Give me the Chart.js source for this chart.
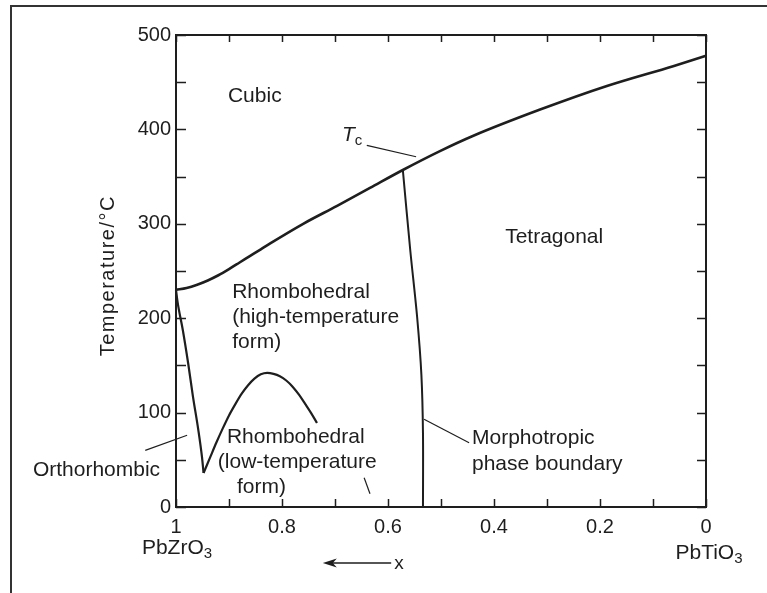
<!DOCTYPE html>
<html>
<head>
<meta charset="utf-8">
<title>PZT phase diagram</title>
<script src="https://cdn.jsdelivr.net/npm/chart.js@4.4.1/dist/chart.umd.min.js"></script>
<style>
  html, body { margin: 0; padding: 0; background: #fff; }
  #wrap { position: relative; width: 767px; height: 593px; overflow: hidden; }
  #frame { position: absolute; left: 10px; top: 5px; right: -4px; bottom: -4px;
           border-left: 2px solid #333; border-top: 2px solid #333; pointer-events: none; }
</style>
</head>
<body>
<div id="wrap">
  <canvas id="pzt" width="767" height="593"></canvas>
  <div id="frame"></div>
</div>
<script>
// x = mole fraction of PbZrO3 (axis runs 1 -> 0), temperatures in °C
const tcX   = [1, 0.98, 0.96, 0.94, 0.92, 0.90, 0.88, 0.86, 0.84, 0.823, 0.760, 0.696, 0.634, 0.572, 0.502, 0.440, 0.313, 0.187, 0.062, 0];
const tcT   = [230, 232, 235.5, 240, 245.5, 252, 259, 266, 273, 279, 300, 319, 338, 357, 377, 393, 421, 446, 467, 478];

// orthorhombic / rhombohedral boundary (left branch of the V)
const orthoX = [1, 0.997, 0.987, 0.977, 0.968, 0.958, 0.951, 0.948];
const orthoT = [230, 217, 187, 152, 117, 82, 53, 36];

// high / low temperature rhombohedral boundary (the dome)
const lowX = [0.948, 0.936, 0.924, 0.912, 0.900, 0.888, 0.876, 0.864, 0.852, 0.840, 0.828,
              0.816, 0.804, 0.792, 0.780, 0.768, 0.756, 0.745, 0.734];
const lowT = [36, 52, 68, 83, 97, 109, 120, 129, 136, 140.5, 142,
              141, 138.5, 134, 127.5, 119, 109, 99.5, 89];

// morphotropic phase boundary
const mpbX = [0.572, 0.558, 0.545, 0.537, 0.534, 0.534];
const mpbT = [357, 272, 201, 140, 78, 0];

// leader lines for the labels
const tcLeadX = [0.640, 0.547],  tcLeadT = [383, 371];
const orLeadX = [1.058, 0.979],  orLeadT = [60, 76];
const lowLeadX = [0.645, 0.634], lowLeadT = [31, 14];
const mpbLeadX = [0.532, 0.447], mpbLeadT = [93, 68];

// tick labels
const xLabelTicks = [1, 0.8, 0.6, 0.4, 0.2, 0];
const yLabelTicks = [0, 100, 200, 300, 400, 500];

const FONT = '"Liberation Sans", Arial, Helvetica, sans-serif';
const INK = '#1e1e1e';

// region labels, anchored in data units
const regionLabels = [
  { text: 'Cubic', x: 0.902, t: 435 },
  { text: 'Tetragonal', x: 0.379, t: 286 },
  { text: 'Rhombohedral', x: 0.894, t: 228 },
  { text: '(high-temperature', x: 0.894, t: 201 },
  { text: 'form)', x: 0.894, t: 175 },
  { text: 'Rhombohedral', x: 0.904, t: 74 },
  { text: '(low-temperature', x: 0.921, t: 47 },
  { text: 'form)', x: 0.885, t: 21 },
  { text: 'Orthorhombic', x: 1.030, t: 39, align: 'right' },
  { text: 'Morphotropic', x: 0.4415, t: 73 },
  { text: 'phase boundary', x: 0.4415, t: 45 }
];

function pts(xs, ts) { return xs.map((x, i) => ({ x: x, y: ts[i] })); }

function line(xs, ts, w, tension, mono) {
  return {
    data: pts(xs, ts), showLine: true, borderColor: INK, borderWidth: w,
    pointRadius: 0, tension: tension, fill: false, clip: false,
    cubicInterpolationMode: mono ? 'monotone' : 'default'
  };
}

function subText(ctx, base, sub, x, y, size, align) {
  ctx.font = size + 'px ' + FONT;
  const wb = ctx.measureText(base).width;
  ctx.font = Math.round(size * 0.72) + 'px ' + FONT;
  const ws = ctx.measureText(sub).width;
  let x0 = x;
  if (align === 'center') x0 = x - (wb + ws) / 2;
  ctx.textAlign = 'left';
  ctx.font = size + 'px ' + FONT;
  ctx.fillText(base, x0, y);
  ctx.font = Math.round(size * 0.72) + 'px ' + FONT;
  ctx.fillText(sub, x0 + wb, y + size * 0.3);
}

const decor = {
  id: 'decor',
  afterDatasetsDraw(chart) {
    const ctx = chart.ctx, a = chart.chartArea;
    const sx = chart.scales.x, sy = chart.scales.y;
    ctx.save();

    // frame + inward ticks on all four sides
    ctx.strokeStyle = INK;
    ctx.lineWidth = 2;
    ctx.strokeRect(a.left, a.top, a.right - a.left, a.bottom - a.top);
    ctx.lineWidth = 1.5;
    ctx.beginPath();
    sx.ticks.forEach(tk => {
      const px = Math.round(sx.getPixelForValue(tk.value)) + 0.5;
      ctx.moveTo(px, a.bottom); ctx.lineTo(px, a.bottom - 8);
      ctx.moveTo(px, a.top); ctx.lineTo(px, a.top + 7);
    });
    sy.ticks.forEach(tk => {
      const py = Math.round(sy.getPixelForValue(tk.value)) + 0.5;
      ctx.moveTo(a.left, py); ctx.lineTo(a.left + 10, py);
      ctx.moveTo(a.right, py); ctx.lineTo(a.right - 9, py);
    });
    ctx.stroke();

    // region labels
    ctx.fillStyle = INK;
    ctx.textBaseline = 'middle';
    ctx.font = '21px ' + FONT;
    regionLabels.forEach(l => {
      ctx.textAlign = l.align || 'left';
      ctx.fillText(l.text, sx.getPixelForValue(l.x), sy.getPixelForValue(l.t));
    });

    // T_c
    const tx = sx.getPixelForValue(0.687), ty = sy.getPixelForValue(394);
    ctx.textAlign = 'left';
    ctx.font = 'italic 21px ' + FONT;
    ctx.fillText('T', tx, ty);
    const tw = ctx.measureText('T').width;
    ctx.font = '15px ' + FONT;
    ctx.fillText('c', tx + tw, ty + 6);

    // end members under the axis
    subText(ctx, 'PbZrO', '3', sx.getPixelForValue(1) + 1, a.bottom + 41, 21, 'center');
    subText(ctx, 'PbTiO', '3', sx.getPixelForValue(0) + 3, a.bottom + 46, 21, 'center');

    // composition arrow  "<---- x"
    const ay = a.bottom + 56;
    const x0 = sx.getPixelForValue(0.723), x1 = sx.getPixelForValue(0.594);
    ctx.lineWidth = 1.3;
    ctx.beginPath();
    ctx.moveTo(x1, ay); ctx.lineTo(x0 + 4, ay);
    ctx.stroke();
    ctx.beginPath();
    ctx.moveTo(x0, ay); ctx.lineTo(x0 + 14, ay - 4.5); ctx.lineTo(x0 + 10, ay); ctx.lineTo(x0 + 14, ay + 4.5);
    ctx.closePath();
    ctx.fill();
    ctx.font = '19px ' + FONT;
    ctx.textAlign = 'left';
    ctx.fillText('x', x1 + 3, ay + 1);

    // y axis title
    ctx.translate(108, sy.getPixelForValue(245));
    ctx.rotate(-Math.PI / 2);
    ctx.textAlign = 'center';
    ctx.font = '20px ' + FONT;
    ctx.letterSpacing = '1.5px';
    ctx.fillText('Temperature/°C', 0, 0);
    ctx.restore();
  }
};

new Chart(document.getElementById('pzt').getContext('2d'), {
  type: 'scatter',
  data: {
    datasets: [
      line(tcX, tcT, 2.6, 0.4, true),
      line(orthoX, orthoT, 2.2, 0.4, true),
      line(lowX, lowT, 2.2, 0.4, true),
      line(mpbX, mpbT, 2, 0.3, false),
      line(tcLeadX, tcLeadT, 1.2, 0, false),
      line(orLeadX, orLeadT, 1.2, 0, false),
      line(lowLeadX, lowLeadT, 1.2, 0, false),
      line(mpbLeadX, mpbLeadT, 1.2, 0, false)
    ]
  },
  options: {
    responsive: false,
    animation: false,
    events: [],
    layout: { padding: { top: 35, right: 61, left: 0, bottom: 0 } },
    plugins: { legend: { display: false }, tooltip: { enabled: false } },
    scales: {
      x: {
        type: 'linear', min: 0, max: 1, reverse: true, position: 'bottom',
        grid: { display: false, drawTicks: false }, border: { display: false },
        ticks: {
          stepSize: 0.1, autoSkip: false, maxRotation: 0, padding: 8,
          color: INK, font: { family: FONT, size: 20 },
          callback: v => {
            const hit = xLabelTicks.find(t => Math.abs(t - v) < 1e-6);
            return hit === undefined ? '' : String(hit);
          }
        },
        afterFit: s => { s.height = 86; }
      },
      y: {
        type: 'linear', min: 0, max: 500,
        grid: { display: false, drawTicks: false }, border: { display: false },
        ticks: {
          stepSize: 50, padding: 5, color: INK, font: { family: FONT, size: 20 },
          callback: v => yLabelTicks.includes(v) ? String(v) : ''
        },
        afterFit: s => { s.width = 176; }
      }
    }
  },
  plugins: [decor]
});
</script>
</body>
</html>
